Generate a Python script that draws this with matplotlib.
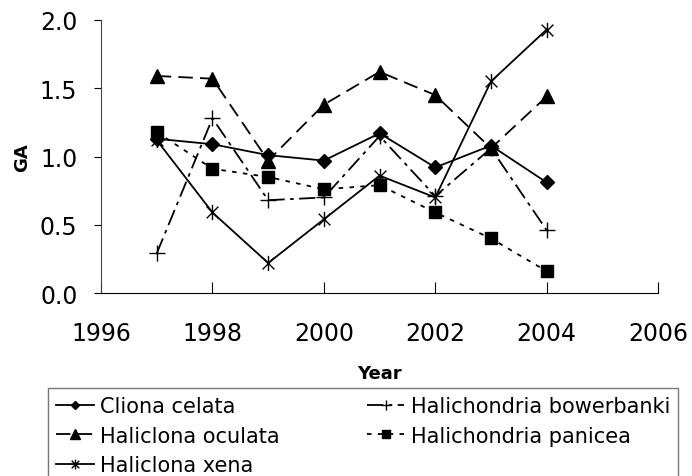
import matplotlib
matplotlib.use("Agg")
import matplotlib.pyplot as plt
from matplotlib.path import Path

# Données
years = [1997, 1998, 1999, 2000, 2001, 2002, 2003, 2004]
cliona_celata = [1.13, 1.09, 1.01, 0.97, 1.17, 0.92, 1.08, 0.81]
haliclona_oculata = [1.59, 1.57, 0.97, 1.38, 1.62, 1.45, 1.06, 1.44]
haliclona_xena = [1.12, 0.59, 0.22, 0.54, 0.86, 0.70, 1.55, 1.93]
halichondria_bowerbanki = [0.29, 1.28, 0.68, 0.70, 1.15, 0.71, 1.06, 0.46]
halichondria_panicea = [1.18, 0.91, 0.85, 0.76, 0.79, 0.59, 0.40, 0.16]

x_ticks = [1996, 1998, 2000, 2002, 2004, 2006]
y_ticks = [0.0, 0.5, 1.0, 1.5, 2.0]

# marqueur étoile style Excel (x + barre verticale)
star = Path([(-1, -1), (1, 1), (-1, 1), (1, -1), (0, -1.3), (0, 1.3)],
            [Path.MOVETO, Path.LINETO, Path.MOVETO, Path.LINETO, Path.MOVETO, Path.LINETO])

plt.rcParams['font.family'] = ['DejaVu Sans']

fig = plt.figure(figsize=(6.92, 4.77), dpi=100)
ax = fig.add_axes([0.146, 0.3836, 0.805, 0.5724])

lw = 1.3
ax.plot(years, cliona_celata, color='black', lw=lw, ls='-',
        marker='D', ms=7, label='Cliona celata')
ax.plot(years, haliclona_oculata, color='black', lw=lw, ls=(0, (8, 4)),
        marker='^', ms=10, label='Haliclona oculata')
ax.plot(years, haliclona_xena, color='black', lw=lw, ls='-',
        marker=star, ms=11, mew=1.0, label='Haliclona xena')
ax.plot(years, halichondria_bowerbanki, color='black', lw=lw, ls=(0, (9, 3, 2, 3)),
        marker='+', ms=11, mew=1.0, label='Halichondria bowerbanki')
ax.plot(years, halichondria_panicea, color='black', lw=lw, ls=(0, (2.5, 3.5)),
        marker='s', ms=8, label='Halichondria panicea')

ax.set_xlim(1996, 2006)
ax.set_ylim(0, 2.0)
ax.set_xticks(x_ticks)
ax.set_yticks(y_ticks)
ax.set_yticklabels([f"{v:.1f}" for v in y_ticks])
ax.tick_params(axis='x', direction='in', length=8, labelsize=17, pad=20)
ax.tick_params(axis='y', direction='out', length=5, labelsize=17, pad=12)
for s in ['top', 'right']:
    ax.spines[s].set_visible(False)
ax.spines['left'].set_color('#444444')

ax.set_xlabel('Year', fontsize=13, fontweight='bold', labelpad=14)
ax.set_ylabel('GA', fontsize=13, fontweight='bold', labelpad=6)

leg = fig.legend(loc='upper left', bbox_to_anchor=(0.069, 0.1845),
                 ncol=2, fontsize=15, frameon=True, fancybox=False,
                 handlelength=1.8, handletextpad=0.3, borderpad=0.4,
                 labelspacing=0.45, borderaxespad=0, columnspacing=4.2,
                 markerscale=0.65)
leg.get_frame().set_edgecolor('#555555')
leg.get_frame().set_linewidth(1.0)

fig.savefig('out.png', dpi=100)
